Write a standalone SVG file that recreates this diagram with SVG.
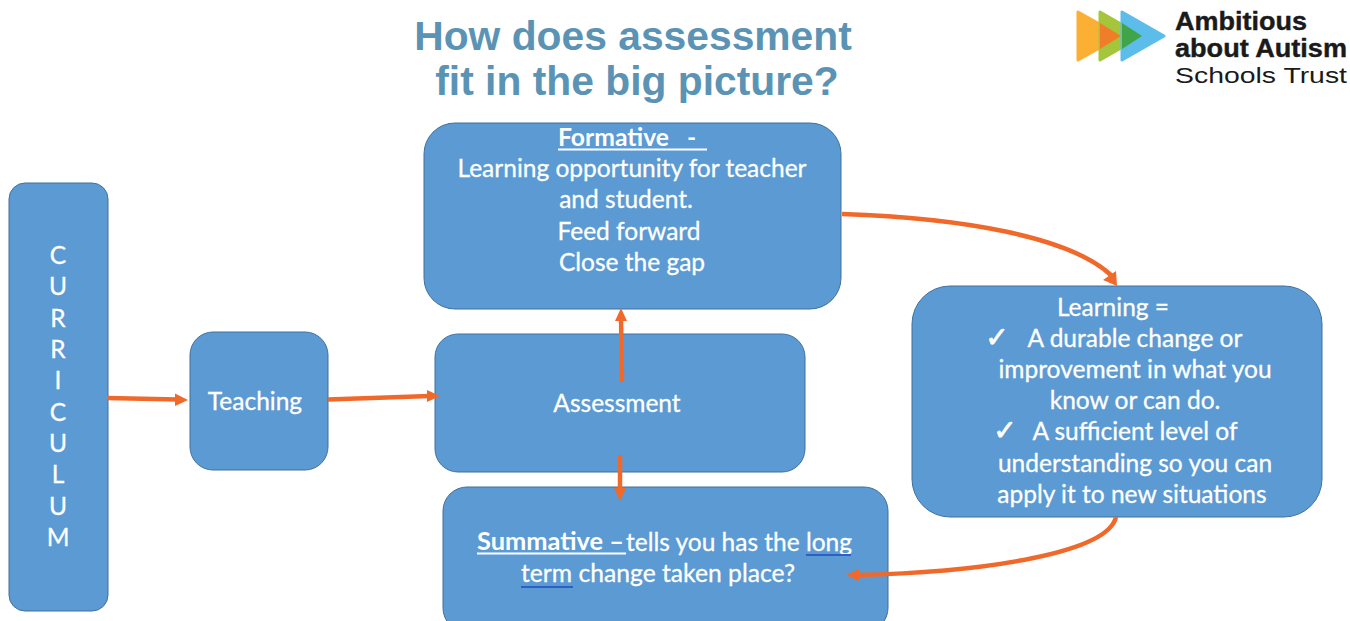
<svg xmlns="http://www.w3.org/2000/svg" width="1350" height="621" viewBox="0 0 1350 621">
<style>
.n{fill:#5b9ad3;stroke:#41719c;stroke-width:1}
.t{font-family:Lato,"Open Sans",sans-serif;font-size:24.500px;fill:#fff;stroke:#fff;stroke-width:.3;text-anchor:middle}
.b{font-weight:700;stroke-width:0;text-anchor:start}
.k{font-family:"DejaVu Sans",sans-serif;font-weight:700;font-size:28px;stroke-width:.8}
.h{font-family:"Liberation Sans",Arial,sans-serif;font-weight:700;font-size:40.800px;fill:#5b93b5;text-anchor:middle}
.c{fill:none;stroke:#f0692b;stroke-width:4.500}
.a{fill:#f0692b}
.l{font-family:"Liberation Sans",Arial,sans-serif;fill:#1a1a1a}
.u{stroke:#fff;stroke-width:2}
.s{stroke:#2f5fc4;stroke-width:2}
</style>
<rect width="1350" height="621" fill="#fff"/>
<g id="title"><text class="h" x="633" y="50">How does assessment</text><text class="h" x="637" y="95">fit in the big picture?</text></g>
<g id="logo">
<path d="M1078 12L1078 60L1121 36Z" fill="#fbb034" stroke="#fbb034" stroke-width="3" stroke-linejoin="round"/>
<path d="M1100 12L1100 60L1142 36Z" fill="#a5c63b" stroke="#a5c63b" stroke-width="3" stroke-linejoin="round"/>
<path d="M1100 23L1100 49L1121 36Z" fill="#ef7d2a"/>
<path d="M1122 12L1122 60L1164 36Z" fill="#5cbcea" stroke="#5cbcea" stroke-width="3" stroke-linejoin="round"/>
<path d="M1122 23L1122 49L1142 36Z" fill="#3fa548"/>
<text class="l" x="1175" y="30" font-size="25" font-weight="700" stroke="#1a1a1a" stroke-width=".4" textLength="132" lengthAdjust="spacingAndGlyphs">Ambitious</text>
<text class="l" x="1175" y="57" font-size="25" font-weight="700" stroke="#1a1a1a" stroke-width=".4" textLength="172" lengthAdjust="spacingAndGlyphs">about Autism</text>
<text class="l" x="1175" y="83" font-size="22" textLength="172" lengthAdjust="spacingAndGlyphs">Schools Trust</text>
</g>
<g id="curriculum"><rect class="n" x="9" y="183" width="99" height="428" rx="16"/>
<text class="t" x="58" y="264">C</text><text class="t" x="58" y="295">U</text><text class="t" x="58" y="327">R</text><text class="t" x="58" y="358">R</text><text class="t" x="58" y="389">I</text><text class="t" x="58" y="421">C</text><text class="t" x="58" y="452">U</text><text class="t" x="58" y="483">L</text><text class="t" x="58" y="515">U</text><text class="t" x="58" y="546">M</text></g>
<g id="teaching"><rect class="n" x="190" y="332" width="138" height="138" rx="23"/><text class="t" x="255" y="410">Teaching</text></g>
<g id="assessment"><rect class="n" x="435" y="334" width="370" height="138" rx="23"/><text class="t" x="617" y="412">Assessment</text></g>
<g id="formative"><rect class="n" x="424" y="123" width="417" height="186" rx="31"/>
<text class="t b" x="558" y="146" textLength="111" lengthAdjust="spacingAndGlyphs">Formative</text><line class="u" x1="558" y1="149.500" x2="707" y2="149.500"/><text class="t b" x="687" y="146">-</text>
<text class="t" x="632" y="177" textLength="349" lengthAdjust="spacingAndGlyphs">Learning opportunity for teacher</text>
<text class="t" x="626" y="208">and student.</text>
<text class="t" x="629" y="240">Feed forward</text>
<text class="t" x="632" y="271">Close the gap</text></g>
<g id="learning"><rect class="n" x="912" y="286" width="410" height="231" rx="38"/>
<text class="t" x="1113" y="316">Learning =</text>
<text class="t k" x="997" y="347">✓</text><text class="t" x="1135" y="347">A durable change or</text>
<text class="t" x="1135" y="378">improvement in what you</text>
<text class="t" x="1135" y="409">know or can do.</text>
<text class="t k" x="1005" y="440">✓</text><text class="t" x="1135" y="440">A sufficient level of</text>
<text class="t" x="1135" y="472">understanding so you can</text>
<text class="t" x="1132" y="503">apply it to new situations</text></g>
<g id="summative"><rect class="n" x="443" y="487" width="445" height="145" rx="24"/>
<text class="t b" x="477" y="550" textLength="147" lengthAdjust="spacingAndGlyphs">Summative –</text>
<text class="t" x="739" y="551" textLength="226" lengthAdjust="spacingAndGlyphs">tells you has the long</text>
<text class="t" x="658" y="582" textLength="274" lengthAdjust="spacingAndGlyphs">term change taken place?</text>
<line class="u" x1="477" y1="553.500" x2="626" y2="553.500"/>
<line class="s" x1="806" y1="555" x2="851" y2="555"/>
<line class="s" x1="521" y1="587" x2="573" y2="587"/></g>
<g id="connectors">
<path class="c" d="M107 398L178 399.500"/><path class="a" d="M188 400L175 393.500L175 406Z"/>
<path class="c" d="M328 399.500L430 396"/><path class="a" d="M440 396L427 390L427 402Z"/>
<path class="c" d="M622 382L621 318"/><path class="a" d="M621 308L615 321L627 321Z"/>
<path class="c" d="M620 455L620 491"/><path class="a" d="M620 501L614 488L626 488Z"/>
<path class="c" d="M842 214C960 218 1070 236 1112 276"/><path class="a" d="M1117 286L1103 280L1116 271Z"/>
<path class="c" d="M1116 517C1108 552 990 572 857 575"/><path class="a" d="M846 575L859 569L859 581Z"/>
</g>
</svg>
